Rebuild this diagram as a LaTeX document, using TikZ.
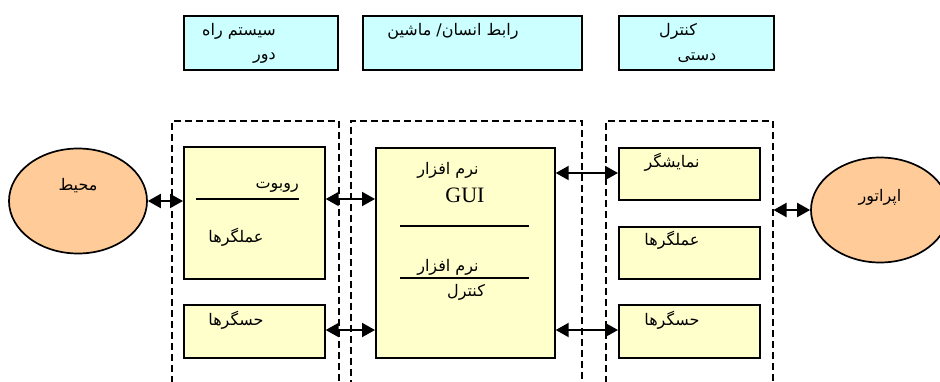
\documentclass[tikz,border=0pt]{standalone}
\usepackage{fontspec}
\setmainfont{Liberation Serif}
\newfontfamily\fa[Script=Arabic]{DejaVu Sans}
\TeXXeTstate=1
\usetikzlibrary{shapes.geometric,arrows.meta}
\definecolor{topfill}{RGB}{204,255,255}
\definecolor{boxfill}{RGB}{255,255,204}
\definecolor{ellfill}{RGB}{255,204,153}
\tikzset{
  topbox/.style={draw=black,line width=1.7pt,fill=topfill,minimum width=#1,minimum height=54pt,inner sep=0pt},
  ybox/.style={draw=black,line width=1.7pt,fill=boxfill,inner sep=0pt},
  dbox/.style={draw=black,line width=1.5pt,dash pattern=on 7pt off 4pt,inner sep=0pt},
  ell/.style={draw=black,line width=1.7pt,fill=ellfill,ellipse,minimum width=138pt,minimum height=105pt,inner sep=0pt},
  lbl/.style={font=\fa\fontsize{16}{19}\selectfont,inner sep=0pt},
  dbl/.style={{Triangle[length=13pt,width=14pt]}-{Triangle[length=13pt,width=14pt]},line width=2pt},
  hline/.style={line width=1.7pt}
}
\newcommand{\fat}[1]{\beginR #1\endR}
\begin{document}
\begin{tikzpicture}[x=1pt,y=-1pt]
\useasboundingbox (0,0) rectangle (940,381);
\clip (0,0) rectangle (940,381);
% top boxes
\node[topbox=154pt,anchor=north west] (t1) at (183,15) {};
\node[topbox=219pt,anchor=north west] (t2) at (362,15) {};
\node[topbox=155pt,anchor=north west] (t3) at (618,15) {};
\node[lbl,anchor=east] (t1a) at (276,31) {\fat{سیستم راه}};
\node[lbl,anchor=east] (t1b) at (276,58) {\fat{دور}};
\node[lbl] (t2a) at (453,31) {\fat{رابط انسان/ ماشین}};
\node[lbl] (t3a) at (678,31) {\fat{کنترل}};
\node[lbl] (t3b) at (697,58) {\fat{دستی}};
% dashed containers
\node[dbox,minimum width=167pt,minimum height=280pt,anchor=north west] (dL) at (171,120) {};
\node[dbox,minimum width=231pt,minimum height=280pt,anchor=north west] (dM) at (350,120) {};
\node[dbox,minimum width=167pt,minimum height=280pt,anchor=north west] (dR) at (605,120) {};
% left boxes
\node[ybox,minimum width=141pt,minimum height=132pt,anchor=north west] (robot) at (183,146) {};
\node[ybox,minimum width=141pt,minimum height=53pt,anchor=north west] (sensL) at (183,304) {};
\coordinate (rl1) at (196,199);
\coordinate (rl2) at (299,199);
\draw[hline] (rl1) -- (rl2);
\node[lbl,anchor=east] (robtxt) at (299,187) {\fat{روبوت}};
\node[lbl] (acttxt) at (236,237) {\fat{عملگرها}};
\node[lbl] (senstxt) at (236,320) {\fat{حسگرها}};
% GUI box
\node[ybox,minimum width=179pt,minimum height=210pt,anchor=north west] (gui) at (375,147) {};
\coordinate (g1a) at (400,226);
\coordinate (g1b) at (529,226);
\coordinate (g2a) at (400,278);
\coordinate (g2b) at (529,278);
\draw[hline] (g1a) -- (g1b);
\draw[hline] (g2a) -- (g2b);
\node[lbl] (gt1) at (448,170) {\fat{نرم افزار}};
\node[font=\fontsize{22}{24}\selectfont,inner sep=0pt] (gt2) at (465,195) {GUI};
\node[lbl] (gt3) at (448,267) {\fat{نرم افزار}};
\node[lbl] (gt4) at (466,292) {\fat{کنترل}};
% right boxes
\node[ybox,minimum width=141pt,minimum height=52pt,anchor=north west] (disp) at (618,147) {};
\node[ybox,minimum width=141pt,minimum height=52pt,anchor=north west] (actR) at (618,226) {};
\node[ybox,minimum width=141pt,minimum height=53pt,anchor=north west] (sensR) at (618,304) {};
\node[lbl] (dtxt) at (672,162) {\fat{نمایشگر}};
\node[lbl] (atxt) at (672,240) {\fat{عملگرها}};
\node[lbl] (stxt) at (672,320) {\fat{حسگرها}};
% ellipses
\node[ell] (env) at (78,201) {};
\node[lbl] (envtxt) at (78,186) {\fat{محیط}};
\node[ell] (op) at (880,210) {};
\node[lbl] (optxt) at (880,197) {\fat{اپراتور}};
% connectors
\draw[dbl] (env.east) -- (env.east -| robot.west);
\draw[dbl] (robot.east |- rl1) -- (gui.west |- rl1);
\draw[dbl] (sensL.east |- 0,330) -- (gui.west |- 0,330);
\draw[dbl] (gui.east |- 0,173) -- (disp.west |- 0,173);
\draw[dbl] (gui.east |- 0,330) -- (sensR.west |- 0,330);
\draw[dbl] (dR.east |- op.west) -- (op.west);
\end{tikzpicture}
\end{document}
